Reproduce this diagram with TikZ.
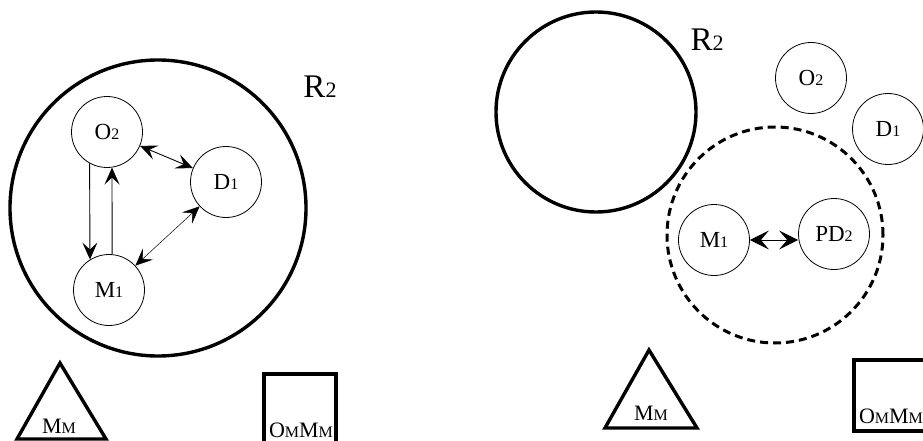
\documentclass[tikz,border=0pt]{standalone}
\usepackage{fontspec}
\setmainfont{Liberation Serif}
\usetikzlibrary{positioning,arrows.meta}
\newcommand{\idx}[1]{{\fontsize{16pt}{16pt}\selectfont #1}}
\newcommand{\bigidx}[1]{{\fontsize{22pt}{22pt}\selectfont #1}}

\begin{document}
\begin{tikzpicture}[x=1pt, y=-1pt,
  agent/.style={draw, circle, line width=0.8pt, minimum size=71pt,
    inner sep=0pt, font=\fontsize{23pt}{23pt}\selectfont},
  region/.style={draw, circle, line width=3.4pt, inner sep=0pt},
  shell/.style={region, line width=3pt, dash pattern=on 8pt off 5pt},
  tag/.style={font=\fontsize{33pt}{33pt}\selectfont, inner sep=0pt},
  boxlbl/.style={font=\fontsize{22pt}{22pt}\selectfont, inner sep=0pt,
    anchor=base},
  frame/.style={line width=3.4pt, line join=miter},
  arr/.style={-{Stealth[length=17pt, width=15pt, inset=7pt]}, line width=0.9pt},
  dbl/.style={{Stealth[length=17pt, width=15pt, inset=7pt]}-{Stealth[length=17pt, width=15pt, inset=7pt]},
    line width=0.9pt},
  bigdbl/.style={{Stealth[length=19pt, width=19pt, inset=8pt]}-{Stealth[length=19pt, width=19pt, inset=8pt]},
    line width=0.9pt},
]
\useasboundingbox (0,0) rectangle (923,441);
\clip (0,0) rectangle (923,441);

% left panel
\node[region, minimum size=296pt] (R2a) at (158,208) {};
\node[tag] (R2aL) at (320,87) {R\bigidx{2}};
\node[agent] (O2a) at (107,132) {O\idx{2}};
\node[agent] (D1a) at (226,182) {D\idx{1}};
\node[agent] (M1a) at (109,290) {M\idx{1}};
\draw[arr] (O2a.-119) -- (M1a.122);
\draw[arr] (M1a.85) -- (O2a.-82);
\draw[dbl] (O2a) -- (D1a);
\draw[dbl, line width=0.5pt] (M1a) -- (D1a);

\draw[frame] (17,439) -- (60,363) -- (106,439) -- cycle;
\node[boxlbl] (MMa) at (59,433) {M\idx{M}};
\draw[frame] (264,374) rectangle (336,446);
\node[boxlbl] (OMa) at (301,437) {O\idx{M}M\idx{M}};

% right panel
\node[region, minimum size=200pt] (R2b) at (596,112) {};
\node[tag] (R2bL) at (707,40) {R\bigidx{2}};
\node[agent] (O2b) at (811,78) {O\idx{2}};
\node[agent] (D1b) at (888,129) {D\idx{1}};
\node[shell, minimum size=216pt] (P) at (775,235) {};
\node[agent] (M1b) at (714,240) {M\idx{1}};
\node[agent] (PD2b) at (834,234) {PD\idx{2}};
\draw[bigdbl] (M1b.east) -- (M1b.east -| PD2b.west);

\draw[frame] (605,428) -- (649,350) -- (697,428) -- cycle;
\node[boxlbl] (MMb) at (651,420) {M\idx{M}};
\draw[frame] (854,360) rectangle (926,431);
\node[boxlbl] (OMb) at (891,423) {O\idx{M}M\idx{M}};
\end{tikzpicture}
\end{document}
